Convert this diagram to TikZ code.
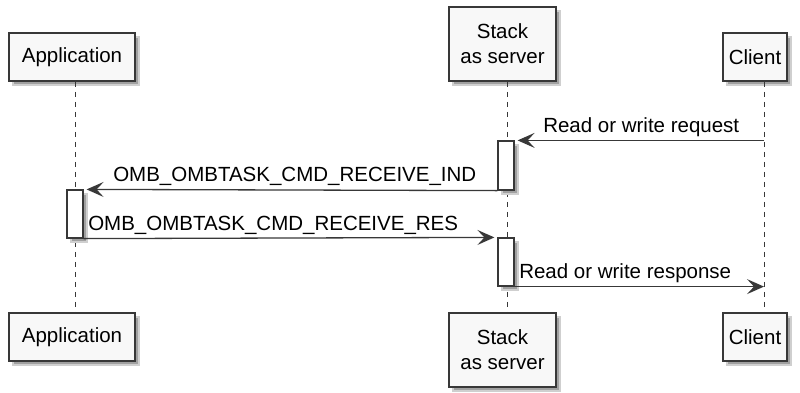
\documentclass[tikz,border=0pt]{standalone}
\usepackage{fontspec}
\setmainfont{Liberation Sans}
\usetikzlibrary{arrows.meta}
\definecolor{umlline}{HTML}{383838}
\definecolor{umlfill}{HTML}{F8F8F8}
\definecolor{umlshade}{HTML}{A0A0A0}
% Kasten mit Schatten: [Stil]{Name}{x}{y}{Breite}{Hoehe}{Text}
\newcommand{\umlbox}[7][participant]{%
    \filldraw[umlshadow] (#3-#5/2+4,#4-#6/2+4) rectangle (#3+#5/2+4,#4+#6/2+4);
    \node[#1, minimum width=#5pt, minimum height=#6pt] (#2) at (#3,#4) {#7};}
\begin{document}
\begin{tikzpicture}[x=1pt,y=-1pt,
    participant/.style={draw=umlline, line width=1.5pt, fill=umlfill, inner sep=0pt,
        align=center, text=black, font=\fontsize{20.5}{25}\selectfont},
    activation/.style={draw=umlline, line width=1.2pt, fill=white, inner sep=0pt},
    umlshadow/.style={fill=umlshade, draw=umlshade!50, line width=2.5pt},
    lifeline/.style={umlline, line width=1pt, dash pattern=on 5pt off 5pt},
    msg/.style={umlline, line width=1.3pt, -{Stealth[length=17pt, width=15pt, inset=7pt]}},
    lbl/.style={font=\fontsize{20.5}{25}\selectfont, text=black, inner sep=0pt, anchor=base west, yshift=8pt}]
        \useasboundingbox (0,0) rectangle (800,392);
        % Lebenslinien (x-Positionen)
        \def\xapp{75}
        \def\xstk{507}
        \def\xcli{764}
        \coordinate (appx) at (\xapp,0);
        \coordinate (stkx) at (\xstk,0);
        \coordinate (clix) at (\xcli,0);

        % Teilnehmer oben
        \umlbox{apptop}{72}{57}{126}{48}{Application}
        \umlbox{stktop}{502.5}{44}{107}{74}{Stack\\as server}
        \umlbox{clitop}{755}{57}{64}{48}{Client}

        % Teilnehmer unten
        \umlbox{appbot}{72}{337}{126}{48}{Application}
        \umlbox{stkbot}{502.5}{350}{107}{74}{Stack\\as server}
        \umlbox{clibot}{755}{337}{64}{48}{Client}

        \draw[lifeline] (apptop.south -| appx) -- (appbot.north -| appx);
        \draw[lifeline] (stktop.south -| stkx) -- (stkbot.north -| stkx);
        \draw[lifeline] (clitop.south -| clix) -- (clibot.north -| clix);

        % Aktivierungen
        \umlbox[activation]{stkact1}{506}{165.5}{16}{49}{}
        \umlbox[activation]{appact}{75}{214}{16}{48}{}
        \umlbox[activation]{stkact2}{506}{262}{16}{48}{}

        % Nachrichten
        \draw[msg] (stkact1.north -| clix) -- node[lbl, at end, xshift=25pt] {Read or write request} ([xshift=3pt]stkact1.north east);
        \draw[msg] (stkact1.south west) -- node[lbl, at end, xshift=26pt] {OMB\_OMBTASK\_CMD\_RECEIVE\_IND} ([xshift=3pt]appact.north east);
        \draw[msg] (appact.south east) -- node[lbl, at start, xshift=4pt] {OMB\_OMBTASK\_CMD\_RECEIVE\_RES} ([xshift=-3pt]stkact2.north west);
        \draw[msg] (stkact2.south east) -- node[lbl, at start, xshift=4pt] {Read or write response} (stkact2.south -| clix);
    \end{tikzpicture}
\end{document}
